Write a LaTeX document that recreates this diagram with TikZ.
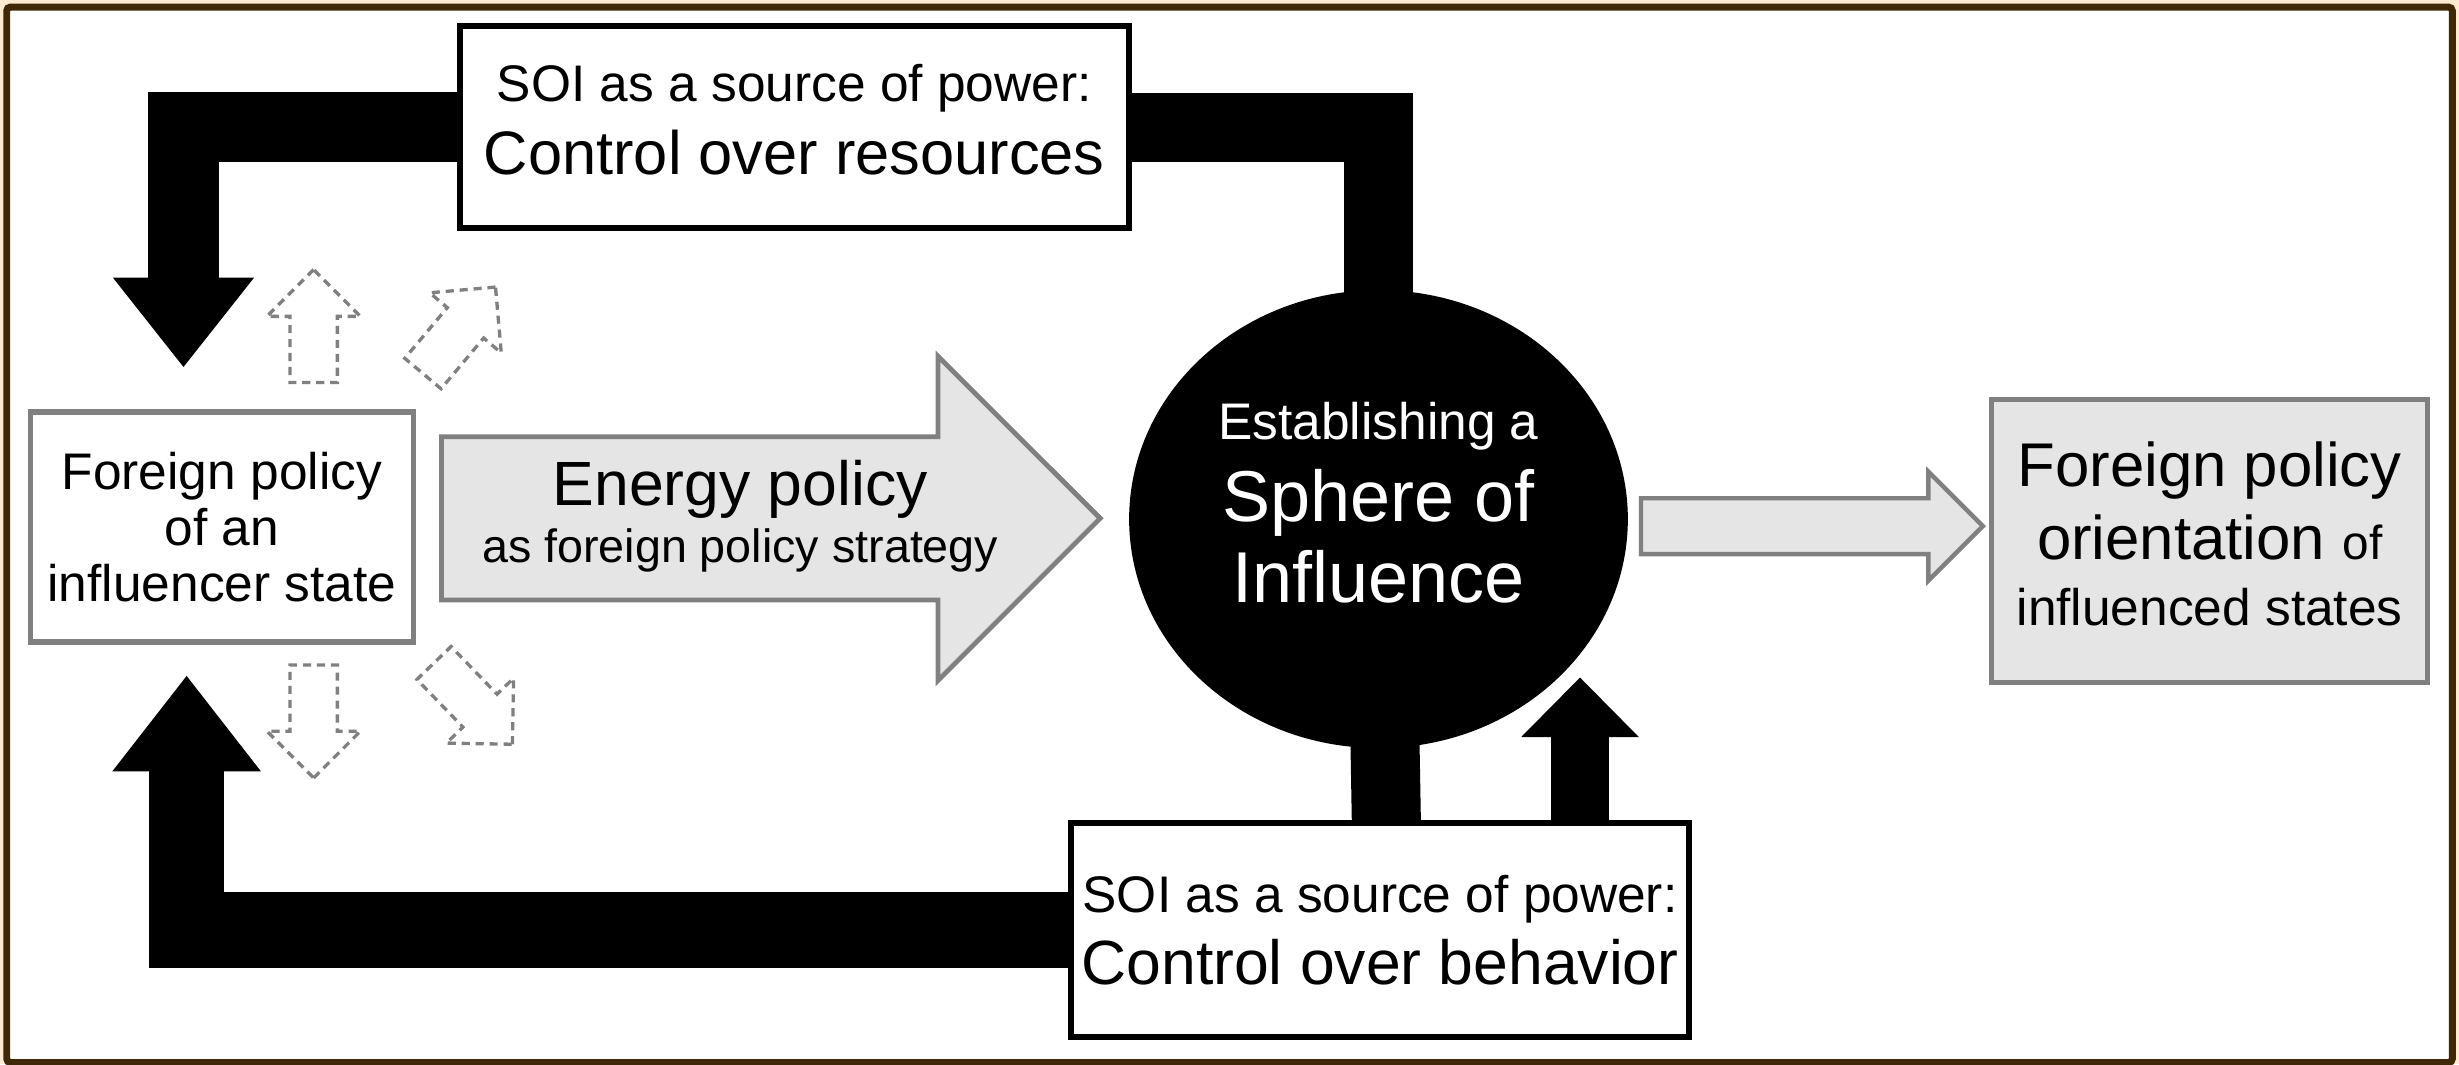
\documentclass[tikz,border=0pt]{standalone}
\usepackage{fontspec}
\setmainfont{Liberation Sans}
\usetikzlibrary{arrows.meta,shapes.geometric,shapes.arrows,calc}

\definecolor{tBrown}{HTML}{3F2808}
\definecolor{tCream}{HTML}{FDEAD0}
\definecolor{tGray}{HTML}{808080}
\definecolor{tLight}{HTML}{E5E5E5}

\newcommand{\fsz}[2]{\fontsize{#1}{#2}\selectfont}
\newcommand{\dep}[1]{\rule[-#1]{0pt}{#1}}

\begin{document}
\begin{tikzpicture}[x=0.015cm,y=-0.015cm,
  blackbox/.style={draw=black,line width=1.6pt,fill=white,align=center,inner sep=0pt},
  greybox/.style={draw=tGray,line width=1.4pt,align=center,inner sep=0pt},
  blockarrow/.style={single arrow,draw=tGray,line width=1.3pt,fill=tLight,anchor=tail,inner xsep=0pt},
  hintarrow/.style={single arrow,draw=tGray,line width=0.9pt,dash pattern=on 2.2pt off 1.6pt,anchor=tail,
    inner xsep=0pt,inner ysep=6pt,minimum height=1.08cm,single arrow head extend=0.22cm},
  power/.style={line width=#1,line join=miter,black}]

\useasboundingbox (0,0) rectangle (1568,678.6);
\fill[tCream] (0,0) rectangle (1568,678.6);
\draw[tBrown,line width=1.9pt,fill=white,rounded corners=1pt] (4.3,4.5) rectangle (1563.7,677.5);

\node[blackbox,minimum width=6.4cm,minimum height=1.93cm,font=\fsz{16.7}{19.9}] (res) at (506.5,81)
  {{\fsz{14}{19.9}SOI as a source of power:}\\Control over resources\dep{4pt}};
\node[blackbox,minimum width=5.91cm,minimum height=2.04cm,font=\fsz{17}{19.6}] (beh) at (880,593)
  {{\fsz{14}{19.6}SOI as a source of power:}\\Control over behavior};

\node[greybox,fill=white,minimum width=3.66cm,minimum height=2.2cm,font=\fsz{14}{15.3}] (src) at (141.5,336)
  {Foreign policy\\of an\\influencer state};
\node[greybox,fill=tLight,minimum width=4.17cm,minimum height=2.7cm,font=\fsz{16.8}{17.8}] (tgt) at (1409,345)
  {Foreign policy\\[2.1pt]orientation {\fsz{13}{17.8}of}\\{\fsz{14}{17.8}influenced states}\dep{4.1pt}};

\node[ellipse,fill=black,text=white,inner sep=0pt,minimum width=4.77cm,minimum height=4.38cm,
  align=center,font=\fsz{19.6}{22.2}] (soi) at (879,331)
  {{\fsz{14}{22.2}Establishing a}\\Sphere of\\Influence\dep{9pt}};

\node[blockarrow,inner ysep=21.55pt,minimum height=6.3cm,single arrow head extend=0.77cm] (ener) at (280,330.5) {};
\node[align=center,inner sep=0pt,font=\fsz{17}{15.4}] (enerText) at (472,329)
  {Energy policy\\{\fsz{12.7}{15.4}as foreign policy strategy}};
\node[blockarrow,line width=1.2pt,inner ysep=7pt,minimum height=3.27cm,single arrow head extend=0.255cm] (out) at (1045,335.5) {};

\node[hintarrow,rotate=90] (hUp) at (200,245) {};
\node[hintarrow,rotate=50] (hNE) at (269,239) {};
\node[hintarrow,rotate=-90] (hDown) at (200,423) {};
\node[hintarrow,rotate=-46] (hSE) at (276,422) {};

\coordinate (resTip) at (117,234);
\coordinate (behTip) at (119,431);
\coordinate (upTip) at (1007.5,432);

\draw[power=19.2pt,-{Triangle[width=38.4pt,length=24.3pt,line width=0pt]}] (res.west) -| (resTip);
\draw[power=18.8pt] (res.east) -| ($(soi.north)+(0,12)$);
\draw[power=20.5pt,-{Triangle[width=40.5pt,length=26pt,line width=0pt]}] (beh.west) -| (behTip);
\draw[power=18.8pt] ($(beh.north)+(4,0)$) -- ($(soi.south)+(4,-12)$);
\draw[power=15.8pt,-{Triangle[width=32pt,length=16.2pt,line width=0pt]}] (beh.north -| upTip) -- (upTip);

\end{tikzpicture}
\end{document}
